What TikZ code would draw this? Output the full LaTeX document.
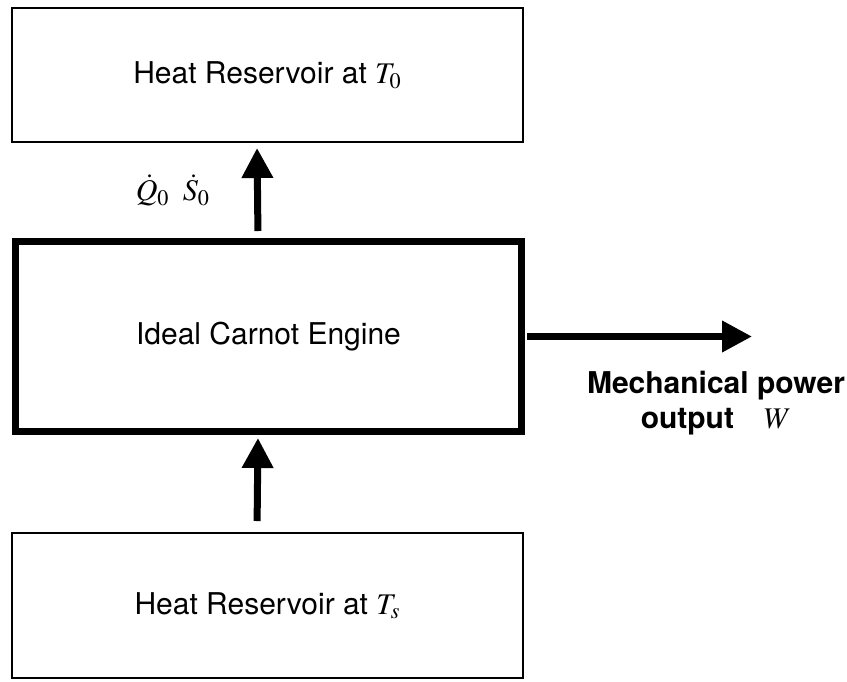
\documentclass[tikz,border=0pt]{standalone}
\usepackage{mathptmx}
\usepackage[no-math]{fontspec}
\setmainfont{TeX Gyre Heros}
\usetikzlibrary{arrows.meta}
\tikzset{
  resB/.style  = {draw, line width=1pt, minimum width=255.5pt,
                  inner sep=0pt, font=\fontsize{15}{18}\selectfont},
  engB/.style  = {draw, line width=3.5pt, minimum width=253pt,
                  minimum height=95pt, inner sep=0pt,
                  font=\fontsize{15}{18}\selectfont},
  flow/.style  = {-{Triangle[length=15pt,width=15pt]}, line width=3.5pt},
  lbl/.style   = {font=\fontsize{15}{17.5}\selectfont, inner sep=0pt},
}

\begin{document}
\begin{tikzpicture}[x=0.5pt,y=-0.5pt]
\useasboundingbox (0,0) rectangle (847,681);

%% ─── Reservoirs and engine ───────────────────────────────────────
\node[resB, minimum height=67pt] (resT0) at (267.5,75)
  {Heat Reservoir at $T_0$};
\node[engB] (engine) at (268.5,336.5) {Ideal Carnot Engine};
\node[resB, minimum height=72.5pt] (resTs) at (267.5,605.5)
  {Heat Reservoir at $T_s$};

%% ─── Heat flows ──────────────────────────────────────────────────
\draw[flow, shorten <=3.5pt, shorten >=2.5pt]
  ([xshift=-5.25pt]engine.north) -- ([xshift=-5.25pt]resT0.south)
  node[lbl, midway, left=22pt] (qs) {$\dot{Q}_0\;\;\dot{S}_0$};
\draw[flow, shorten <=5.5pt, shorten >=1.5pt]
  ([xshift=-5.25pt]resTs.north) -- ([xshift=-5.25pt]engine.south);

%% ─── Work output ─────────────────────────────────────────────────
\coordinate (wEnd) at (752,336.5);
\draw[flow, shorten <=1pt] (engine.east) -- (wEnd);
\node[lbl, align=center, font=\fontsize{15}{17.5}\selectfont\bfseries]
  (wLbl) at (716,403) {Mechanical power\\output\quad $W$};

\end{tikzpicture}
\end{document}
